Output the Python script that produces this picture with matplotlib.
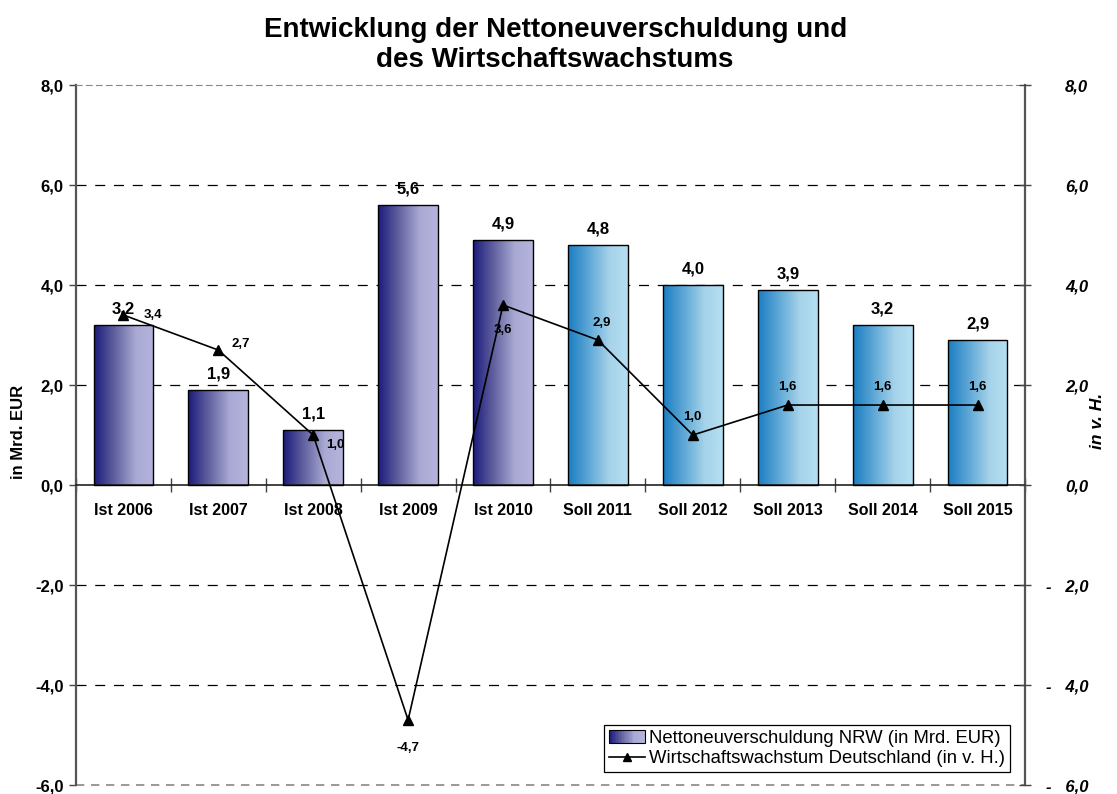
import numpy as np
import matplotlib
matplotlib.use("Agg")
import matplotlib.pyplot as plt
from matplotlib.colors import LinearSegmentedColormap
from matplotlib.patches import Rectangle
from matplotlib.lines import Line2D
from matplotlib.legend_handler import HandlerBase
from matplotlib.ticker import FuncFormatter, FixedLocator

plt.rcParams['font.family'] = ['Liberation Sans', 'DejaVu Sans']

# data
categories = ["Ist 2006", "Ist 2007", "Ist 2008", "Ist 2009", "Ist 2010",
              "Soll 2011", "Soll 2012", "Soll 2013", "Soll 2014", "Soll 2015"]
debt = [3.2, 1.9, 1.1, 5.6, 4.9, 4.8, 4.0, 3.9, 3.2, 2.9]
growth = [3.4, 2.7, 1.0, -4.7, 3.6, 2.9, 1.0, 1.6, 1.6, 1.6]
is_plan = [False] * 5 + [True] * 5
# label offsets (points) for the growth values
growth_offsets = [(21, 0), (16, 4), (16, -7), (0, -20), (0, -18),
                  (3, 12), (0, 13), (0, 13), (0, 13), (0, 13)]

cmap_ist = LinearSegmentedColormap.from_list(
    "ist", [(0, "#1b1b7c"), (0.35, "#6262a0"), (0.7, "#a9a9d4"), (1, "#b4b4dd")])
cmap_soll = LinearSegmentedColormap.from_list(
    "soll", [(0, "#1a7ec2"), (0.35, "#5fa8d6"), (0.7, "#a6d3ea"), (1, "#b6dff1")])


def de(v):
    return f"{v:.1f}".replace(".", ",")


class GradHandler(HandlerBase):
    def create_artists(self, legend, orig_handle, xdescent, ydescent,
                       width, height, fontsize, trans):
        n = 24
        arts = []
        for i in range(n):
            arts.append(Rectangle((-xdescent + i * width / n, -ydescent), width / n, height,
                                  facecolor=cmap_ist(i / (n - 1)), edgecolor="none",
                                  transform=trans))
        arts.append(Rectangle((-xdescent, -ydescent), width, height, facecolor="none",
                              edgecolor="black", lw=0.8, transform=trans))
        return arts


fig = plt.figure(figsize=(11.17, 7.94), dpi=100)
ax = fig.add_axes([0.068, 0.0113, 0.8496, 0.8816])

x = np.arange(len(categories))
bw = 0.63
bars = ax.bar(x, debt, width=bw, facecolor="none", edgecolor="black", lw=1.0, zorder=3)

grad = np.linspace(0, 1, 256).reshape(1, -1)
for b, plan in zip(bars, is_plan):
    x0 = b.get_x()
    im = ax.imshow(grad, extent=[x0, x0 + b.get_width(), 0, b.get_height()],
                   aspect="auto", cmap=cmap_soll if plan else cmap_ist, zorder=2,
                   interpolation="bilinear")
    im.set_clip_path(b)

for xi, v in zip(x, debt):
    ax.annotate(de(v), (xi, v), xytext=(0, 6), textcoords="offset points",
                ha="center", va="bottom", fontsize=12, fontweight="bold", zorder=4)

ax.plot(x, growth, color="black", lw=1.2, marker="^", markersize=7, zorder=5)
for xi, v, off in zip(x, growth, growth_offsets):
    ax.annotate(de(v), (xi, v), xytext=off, textcoords="offset points",
                ha="center", va="center", fontsize=9.5, fontweight="bold", zorder=6)

ax.set_xlim(-0.5, len(categories) - 0.5)
ax.set_ylim(-6, 8)
ax.set_yticks(np.arange(-6, 8.1, 2))
ax.yaxis.set_major_formatter(FuncFormatter(lambda v, p: de(v)))
ax.tick_params(axis="y", direction="out", length=5, width=1, color="#444",
               labelsize=12, pad=4)

ax.set_xticks(x)
ax.set_xticklabels(categories)
ax.xaxis.set_minor_locator(FixedLocator(np.arange(-0.5, len(categories), 1)))
ax.tick_params(axis="x", which="major", length=0, pad=13, labelsize=11.5)
ax.tick_params(axis="x", which="minor", direction="inout", length=10, width=1, color="#444")

ax.spines["bottom"].set_position(("data", 0))
ax.spines["bottom"].set_color("#222")
ax.spines["bottom"].set_linewidth(1.2)
ax.spines["top"].set_linestyle((0, (5, 4)))
ax.spines["top"].set_color("#888")
for s in ["left", "right"]:
    ax.spines[s].set_color("#555")
    ax.spines[s].set_linewidth(1.6)
ax.axhline(-6, color="#888", lw=1.2, ls=(0, (5, 4)), clip_on=False, zorder=1)
for g in [-4, -2, 2, 4, 6]:
    ax.axhline(g, color="black", lw=0.9, ls=(0, (8, 7)), zorder=1)

ax2 = ax.twinx()
ax2.set_ylim(-6, 8)
ax2.set_yticks(np.arange(-6, 8.1, 2))
ax2.yaxis.set_major_formatter(
    FuncFormatter(lambda v, p: de(v) if v >= 0 else "-   " + de(-v)))
ax2.tick_params(axis="y", direction="inout", length=9, width=1, color="#444",
                labelsize=12, pad=41)
for s in ax2.spines.values():
    s.set_visible(False)

plt.setp(ax.get_xticklabels(), fontweight="bold")
plt.setp(ax.get_yticklabels(), fontweight="bold")
plt.setp(ax2.get_yticklabels(), fontweight="bold", fontstyle="italic",
         horizontalalignment="right")

fig.text(0.017, 1 - 432 / 794, "in Mrd. EUR", rotation=90, ha="center", va="center",
         fontsize=12, fontweight="bold")
fig.text(1 - 20 / 1117, 1 - 421 / 794, "in v. H.", rotation=90, ha="center", va="center",
         fontsize=12.5, fontweight="bold", fontstyle="italic")
fig.text(0.497, 1 - 17 / 794, "Entwicklung der Nettoneuverschuldung und\ndes Wirtschaftswachstums",
         ha="center", va="top", fontsize=20, fontweight="bold", linespacing=1.2)

h_bar = Rectangle((0, 0), 1, 1)
h_line = Line2D([], [], color="black", lw=1.2, marker="^", markersize=6)
leg = ax.legend([h_bar, h_line],
                ["Nettoneuverschuldung NRW (in Mrd. EUR)", "Wirtschaftswachstum Deutschland (in v. H.)"],
                handler_map={Rectangle: GradHandler()},
                loc="lower right", bbox_to_anchor=(0.984, 0.0186), borderaxespad=0,
                fontsize=13.3, fancybox=False, framealpha=1, edgecolor="black",
                handlelength=2.0, handletextpad=0.2, borderpad=0.25, labelspacing=0.2)
leg.get_frame().set_linewidth(0.9)
leg.set_zorder(10)

fig.savefig("out.png", dpi=100)
